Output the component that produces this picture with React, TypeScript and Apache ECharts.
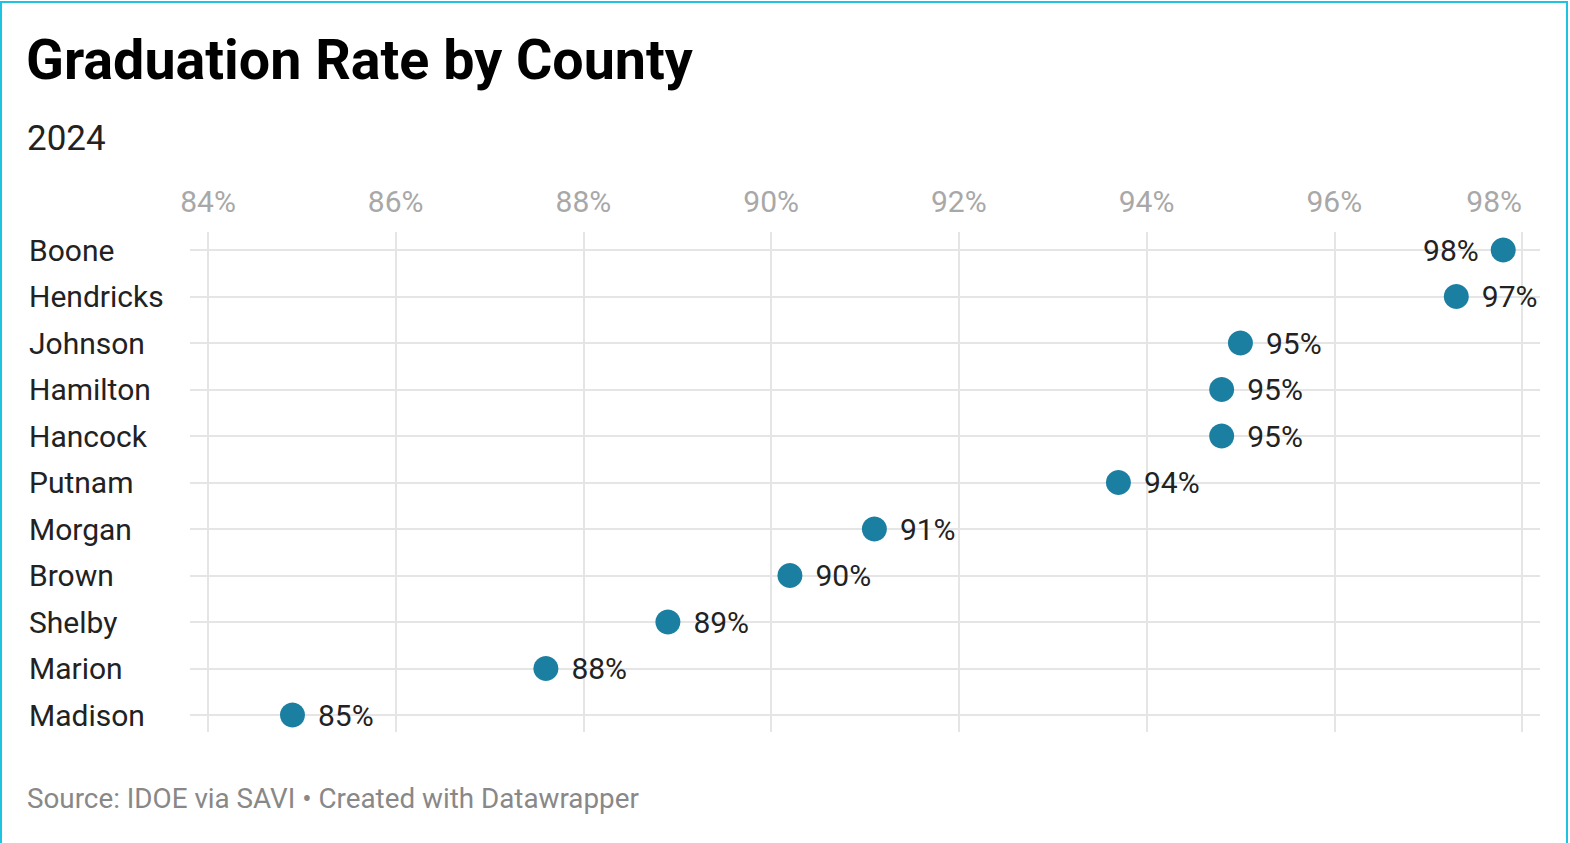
import React, { useEffect, useRef } from "react";
import * as echarts from "echarts";

const counties = ["Boone", "Hendricks", "Johnson", "Hamilton", "Hancock", "Putnam", "Morgan", "Brown", "Shelby", "Marion", "Madison"];
const rates = [97.8, 97.3, 95.0, 94.8, 94.8, 93.7, 91.1, 90.2, 88.9, 87.6, 84.9];
const labelLeft = ["Boone"];
const xMin = 84;
const xMax = 98;
const xStep = 2;
const titleText = "Graduation Rate by County";
const subtitleText = "2024";
const footerText = "Source: IDOE via SAVI • Created with Datawrapper";

const FONT = "Roboto, 'Noto Sans', sans-serif";
const DOT = "#1b7fa1";
const GRID = "#e5e5e5";

export default function App() {
  const ref = useRef<HTMLDivElement>(null);
  useEffect(() => {
    if (!ref.current) return;
    const chart = echarts.init(ref.current, null, { renderer: "svg" });
    const plotW = 1570 - 208 - 48;
    const pad = ((xMax - xMin) * 18) / plotW;
    chart.setOption({
      animation: false,
      backgroundColor: "transparent",
      title: [
        { text: titleText, left: 26, top: 32, padding: 0, textStyle: { fontFamily: FONT, fontSize: 55.6, fontWeight: "bold", color: "#000" } },
        { text: subtitleText, left: 27, top: 121, padding: 0, textStyle: { fontFamily: FONT, fontSize: 35, fontWeight: "normal", color: "#222" } },
        { text: footerText, left: 27, top: 784, padding: 0, textStyle: { fontFamily: FONT, fontSize: 27.8, fontWeight: "normal", color: "#888" } },
      ],
      grid: [
        { left: 208, right: 48, top: 232, bottom: 111 },
        { left: 190, right: 30, top: 250, bottom: 128 },
      ],
      xAxis: [
        {
          gridIndex: 0, type: "value", position: "top", min: xMin, max: xMax, interval: xStep,
          axisLine: { show: false }, axisTick: { show: false },
          axisLabel: { formatter: (v: number) => `${v}%`, color: "#a8a8a8", fontFamily: FONT, fontSize: 30, margin: 16, alignMaxLabel: "right" },
          splitLine: { show: true, lineStyle: { color: GRID, width: 2 } },
        },
        {
          gridIndex: 1, type: "value", min: xMin - pad, max: xMax + pad, show: false,
        },
      ],
      yAxis: [
        { gridIndex: 0, type: "value", show: false },
        {
          gridIndex: 1, type: "category", data: counties, inverse: true, boundaryGap: false,
          axisLine: { show: false }, axisTick: { show: false },
          axisLabel: { align: "left", margin: 161, color: "#222", fontFamily: FONT, fontSize: 30 },
          splitLine: { show: true, lineStyle: { color: GRID, width: 2 } },
        },
      ],
      series: [
        {
          type: "scatter", xAxisIndex: 1, yAxisIndex: 1, symbolSize: 25,
          itemStyle: { color: DOT, opacity: 1 },
          data: counties.map((c, i) => ({
            value: [rates[i], c],
            label: {
              show: true,
              position: labelLeft.includes(c) ? "left" : "right",
              distance: labelLeft.includes(c) ? 12 : 13,
              formatter: `${Math.round(rates[i])}%`,
              color: "#222", fontFamily: FONT, fontSize: 30,
            },
          })),
        },
      ],
    });
    return () => chart.dispose();
  }, []);
  return (
    <div style={{ position: "fixed", left: 0, top: 0, width: 1570, height: 843, background: "#fff", overflow: "hidden" }}>
      <div ref={ref} style={{ position: "absolute", left: 0, top: 0, width: 1570, height: 843 }} />
      <div style={{ position: "absolute", left: 0, top: 1, width: 1564, height: 900, border: "2px solid #1dc3df", boxSizing: "content-box", pointerEvents: "none" }} />
    </div>
  );
}
